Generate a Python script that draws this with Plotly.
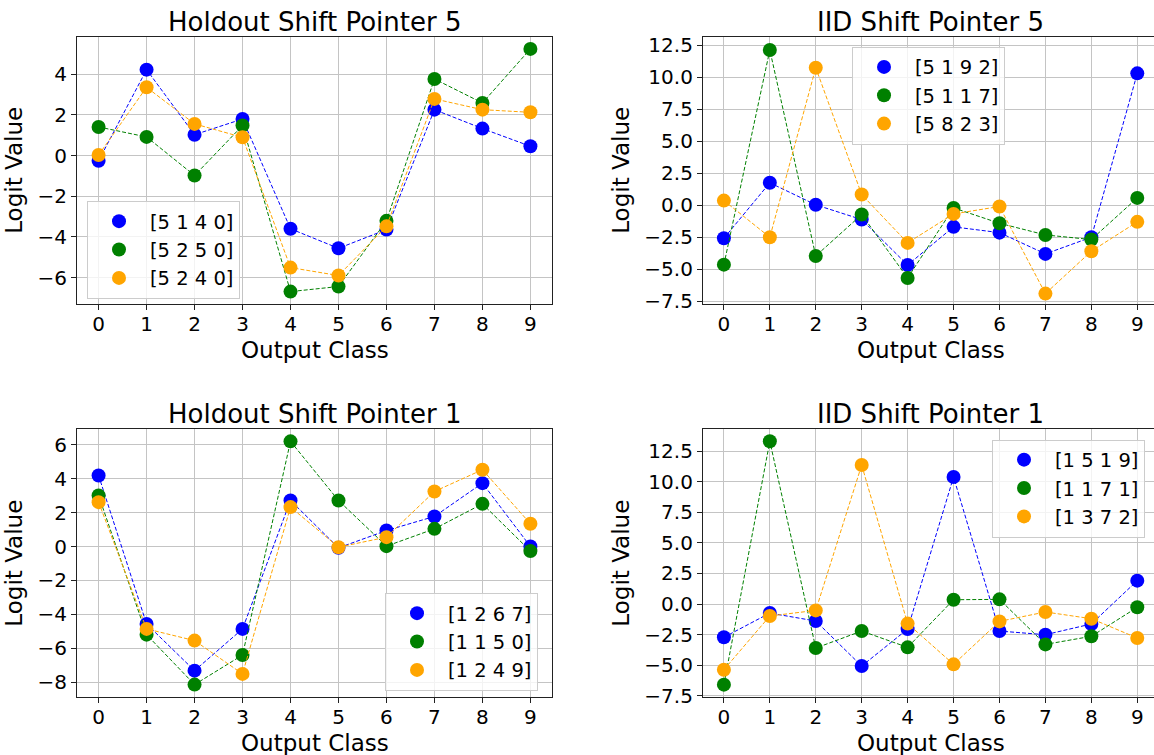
import plotly.graph_objects as go

classes = list(range(10))

# Holdout Shift Pointer 5
hs5_labels = ["[5 1 4 0]", "[5 2 5 0]", "[5 2 4 0]"]
hs5_a = [-0.25, 4.23, 1.03, 1.80, -3.60, -4.56, -3.64, 2.26, 1.33, 0.46]
hs5_b = [1.41, 0.92, -0.98, 1.48, -6.69, -6.44, -3.21, 3.77, 2.59, 5.25]
hs5_c = [0.03, 3.36, 1.56, 0.90, -5.51, -5.90, -3.48, 2.79, 2.26, 2.13]

# IID Shift Pointer 5
iid5_labels = ["[5 1 9 2]", "[5 1 1 7]", "[5 8 2 3]"]
iid5_a = [-2.58, 1.75, 0.03, -1.12, -4.67, -1.69, -2.14, -3.80, -2.50, 10.29]
iid5_b = [-4.64, 12.11, -3.96, -0.73, -5.68, -0.21, -1.41, -2.32, -2.68, 0.57]
iid5_c = [0.36, -2.50, 10.73, 0.83, -2.94, -0.68, -0.10, -6.90, -3.59, -1.30]

# Holdout Shift Pointer 1
hs1_labels = ["[1 2 6 7]", "[1 1 5 0]", "[1 2 4 9]"]
hs1_a = [4.18, -4.56, -7.31, -4.85, 2.71, -0.08, 0.94, 1.77, 3.73, 0.00]
hs1_b = [3.00, -5.19, -8.13, -6.39, 6.19, 2.71, 0.02, 1.04, 2.51, -0.27]
hs1_c = [2.61, -4.85, -5.54, -7.50, 2.32, -0.04, 0.55, 3.24, 4.52, 1.34]

# IID Shift Pointer 1
iid1_labels = ["[1 5 1 9]", "[1 1 7 1]", "[1 3 7 2]"]
iid1_a = [-2.72, -0.74, -1.39, -5.07, -2.05, 10.38, -2.21, -2.51, -1.63, 1.91]
iid1_b = [-6.59, 13.30, -3.60, -2.21, -3.54, 0.35, 0.38, -3.30, -2.64, -0.27]
iid1_c = [-5.37, -0.98, -0.52, 11.36, -1.60, -4.93, -1.42, -0.65, -1.20, -2.78]

titles = ["Holdout Shift Pointer 5", "IID Shift Pointer 5",
          "Holdout Shift Pointer 1", "IID Shift Pointer 1"]
x_title = "Output Class"
y_title = "Logit Value"
colors = ["blue", "green", "orange"]

panels = [
    dict(labels=hs5_labels, series=[hs5_a, hs5_b, hs5_c]),
    dict(labels=iid5_labels, series=[iid5_a, iid5_b, iid5_c]),
    dict(labels=hs1_labels, series=[hs1_a, hs1_b, hs1_c]),
    dict(labels=iid1_labels, series=[iid1_a, iid1_b, iid1_c]),
]

W, H = 1154, 755
FONT = "DejaVu Sans"

# axes frames in pixels: (left, right, top, bottom)
frames = [(77, 552, 36.7, 304), (703, 1154, 36.7, 304),
          (77, 552, 429.3, 697), (703, 1154, 429.3, 697)]
xranges = [[-0.45, 9.45], [-0.455, 9.364], [-0.45, 9.45], [-0.455, 9.364]]
yranges = [[-7.3, 5.85], [-7.71, 13.15], [-8.86, 6.9], [-7.6, 14.28]]
ydticks = [2, 2.5, 2, 2.5]
yfmts = ["", ".1f", "", ".1f"]
title_cx = [314.5, 930.5, 314.5, 930.5]
xtitle_cy = [350, 350, 743, 743]
legend_pos = [(87, 201), (852, 46.7), (385, 593), (992, 439.5)]

fig = go.Figure()
for p, panel in enumerate(panels):
    sfx = "" if p == 0 else str(p + 1)
    leg = "legend" if p == 0 else "legend" + str(p + 1)
    for k, (lab, vals) in enumerate(zip(panel["labels"], panel["series"])):
        fig.add_trace(go.Scatter(
            x=classes, y=vals, mode="markers", name=lab,
            marker=dict(color=colors[k], size=14, line=dict(width=0)),
            xaxis="x" + sfx, yaxis="y" + sfx, legend=leg,
            legendgroup="g%d_%d" % (p, k)))
        fig.add_trace(go.Scatter(
            x=classes, y=vals, mode="lines", showlegend=False,
            line=dict(color=colors[k], width=1, dash="4px,2px"),
            xaxis="x" + sfx, yaxis="y" + sfx, hoverinfo="skip"))

axis_common = dict(
    showline=True, linecolor="#222222", linewidth=1.2,
    ticks="outside", ticklen=5, tickwidth=1, tickcolor="#222222",
    showgrid=True, gridcolor="#c4c4c4", gridwidth=1, zeroline=False,
    automargin=False,
    tickfont=dict(family=FONT, size=20, color="black"),
)

layout = dict(
    width=W, height=H, margin=dict(l=0, r=0, t=0, b=0),
    paper_bgcolor="white", plot_bgcolor="white",
    font=dict(family=FONT, color="black"),
    showlegend=True, annotations=[],
)

for p in range(4):
    sfx = "" if p == 0 else str(p + 1)
    l, r, t, b = frames[p]
    right_col = p in (1, 3)
    xa = dict(axis_common)
    xa.update(domain=[l / W, r / W], range=xranges[p], anchor="y" + sfx,
              tickmode="array", tickvals=classes,
              ticktext=[str(c) for c in classes],
              mirror=True, ticklabelstandoff=-3)
    ya = dict(axis_common)
    ya.update(domain=[1 - b / H, 1 - t / H], range=yranges[p], anchor="x" + sfx,
              tick0=0, dtick=ydticks[p], tickformat=yfmts[p],
              mirror=(not right_col),
              title=dict(text=y_title, standoff=8,
                         font=dict(family=FONT, size=23, color="black")))
    layout["xaxis" + sfx] = xa
    layout["yaxis" + sfx] = ya
    lx, ly = legend_pos[p]
    leg = "legend" if p == 0 else "legend" + str(p + 1)
    layout[leg] = dict(
        x=lx / W, y=1 - ly / H, xanchor="left", yanchor="top",
        xref="paper", yref="paper",
        bgcolor="rgba(255,255,255,0.8)", bordercolor="#cccccc", borderwidth=1,
        font=dict(family=FONT, size=19.5, color="black"),
        itemwidth=52, tracegroupgap=0, traceorder="grouped")
    layout["annotations"].append(dict(
        text=titles[p], x=title_cx[p] / W, y=1 - t / H,
        xref="paper", yref="paper", xanchor="center", yanchor="bottom",
        yshift=-2, showarrow=False,
        font=dict(family=FONT, size=26, color="black")))
    layout["annotations"].append(dict(
        text=x_title, x=title_cx[p] / W, y=1 - xtitle_cy[p] / H,
        xref="paper", yref="paper", xanchor="center", yanchor="middle",
        showarrow=False,
        font=dict(family=FONT, size=23, color="black")))

fig.update_layout(**layout)
post = ("var s=document.createElement('style');"
        "s.textContent='html,body{margin:0;padding:0;height:755px;overflow:hidden;}';"
        "document.head.appendChild(s);")
fig.write_html("out.html", config={"displayModeBar": False}, post_script=post)
